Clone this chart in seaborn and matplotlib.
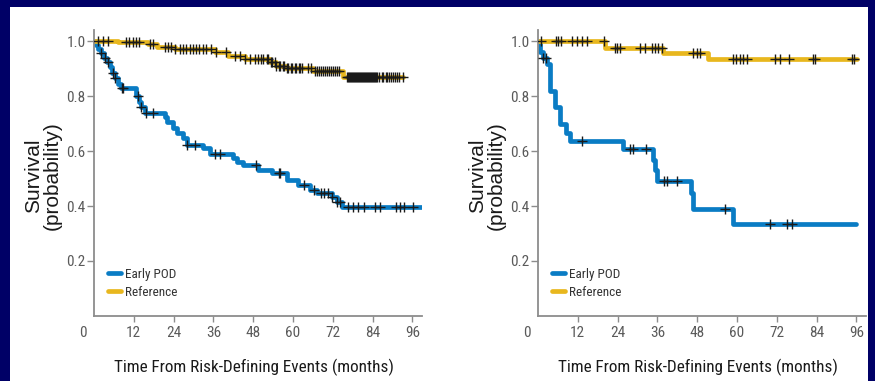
import numpy as np
import pandas as pd
import matplotlib
matplotlib.use("Agg")
import matplotlib.pyplot as plt
import seaborn as sns
from matplotlib import font_manager
from matplotlib.font_manager import FontProperties
from matplotlib.patches import Rectangle

# ---------------- data ----------------
groups = ["Early POD", "Reference"]
x_ticks = [12, 24, 36, 48, 60, 72, 84, 96]
y_ticks = [0.2, 0.4, 0.6, 0.8, 1.0]
y_tick_labels = ["0.2", "0.4", "0.6", "0.8", "1.0"]
x_label = "Time From Risk-Defining Events (months)"
y_label_1 = "Survival"
y_label_2 = "(probability)"

# Left panel - Early POD (step times / survival after step)
left_pod_t = [0.0, 0.5, 1.2, 2.0, 3.0, 4.0, 4.8, 5.5, 6.3, 7.2, 8.2, 12.8, 13.6, 14.3,
              15.3, 21.3, 21.9, 23.9, 24.9, 26.9, 27.9, 33.0, 35.0, 42.0, 43.0, 45.0,
              49.5, 53.6, 58.1, 61.6, 65.1, 67.1, 71.7, 73.2, 74.7, 98.9]
left_pod_s = [1.0, 0.985, 0.97, 0.955, 0.94, 0.922, 0.905, 0.885, 0.865, 0.845, 0.828,
              0.80, 0.78, 0.76, 0.738, 0.725, 0.707, 0.682, 0.664, 0.646, 0.622, 0.61,
              0.588, 0.573, 0.561, 0.549, 0.531, 0.519, 0.495, 0.476, 0.458, 0.446,
              0.434, 0.416, 0.397, 0.397]
left_pod_cens = [2.1, 3.3, 4.3, 5.8, 6.3, 8.3, 8.8, 13.3, 14.3, 15.8, 17.8, 27.9, 30.6,
                 36.5, 38.0, 48.8, 55.7, 56.1, 63.2, 66.2, 68.3, 69.5, 70.7, 71.8, 73.3,
                 74.3, 76.6, 78.0, 79.5, 81.5, 84.7, 86.2, 91.0, 92.4, 93.5, 96.1]

# Left panel - Reference
left_ref_t = [0.0, 7.2, 16.3, 19.0, 24.3, 36.4, 40.4, 45.4, 53.0, 55.0, 58.0, 66.1, 75.2, 93.3]
left_ref_s = [1.0, 0.995, 0.988, 0.98, 0.971, 0.959, 0.947, 0.935, 0.922, 0.91, 0.902,
              0.89, 0.87, 0.87]
left_ref_cens = [1.2, 2.7, 4.2, 9.7, 10.7, 11.7, 12.7, 13.7, 16.8, 17.8, 21.3, 22.3, 23.3,
                 24.3, 25.8, 26.9, 27.7, 28.8, 29.9, 30.7, 31.8, 32.9, 33.7, 35.3, 36.9,
                 39.9, 42.4, 43.9, 45.4, 46.9, 48.4, 49.5, 50.5, 51.0, 52.1, 52.6, 53.3,
                 53.8, 54.5, 55.0, 55.7, 56.2, 56.9, 57.3, 58.1, 58.6, 59.3, 59.8, 60.5,
                 61.0, 61.7, 62.1, 62.8, 64.5, 65.5, 66.6, 67.3, 67.8, 68.5, 69.0, 69.7,
                 70.2, 70.9, 71.4, 72.1, 72.6, 73.3, 73.8, 76.2, 76.5, 76.9, 77.1, 77.5,
                 77.8, 78.0, 78.4, 78.6, 79.0, 79.3, 79.5, 79.9, 80.1, 80.5, 80.7, 81.1,
                 81.3, 81.7, 82.0, 82.2, 82.6, 82.8, 83.2, 83.4, 83.8, 84.0, 84.4, 84.6,
                 85.0, 85.3, 85.8, 86.7, 87.2, 87.9, 88.4, 89.1, 89.6, 90.3, 90.8, 91.5,
                 92.0, 93.3]

# Right panel - Early POD
right_pod_t = [0.0, 0.5, 1.5, 2.7, 3.6, 5.1, 6.6, 8.4, 9.6, 25.7, 34.6, 35.3, 35.9,
               46.0, 46.6, 58.9, 95.9]
right_pod_s = [1.0, 0.96, 0.94, 0.918, 0.82, 0.76, 0.70, 0.665, 0.637, 0.606, 0.567,
               0.53, 0.49, 0.446, 0.39, 0.333, 0.333]
right_pod_cens = [1.6, 2.4, 13.2, 27.7, 28.7, 32.6, 38.0, 38.8, 41.8, 56.4, 70.0, 75.0, 76.5]

# Right panel - Reference
right_ref_t = [0.0, 20.2, 37.7, 51.3, 96.2]
right_ref_s = [1.0, 0.976, 0.957, 0.935, 0.935]
right_ref_cens = [0.8, 5.4, 6.1, 6.8, 10.2, 11.7, 13.2, 14.7, 19.9, 23.2, 23.9, 24.7,
                  30.8, 32.3, 34.3, 35.3, 36.3, 37.3, 46.8, 47.8, 48.8, 58.8, 59.8, 60.8,
                  61.8, 62.9, 71.4, 72.9, 75.8, 82.8, 83.5, 94.6, 95.3]

# ---------------- style ----------------
NAVY = "#000066"
BLUE = "#0A7CC4"
YELLOW = "#E8B71E"
palette = {"Early POD": BLUE, "Reference": YELLOW}

sns.set_theme(style="ticks")

# look for a condensed sans font; fall back to Liberation Sans (narrower than DejaVu)
cond_file = None
wanted = ["Liberation Sans Narrow", "Roboto Condensed", "Open Sans Condensed",
          "Noto Sans Condensed", "Arial Narrow", "DejaVu Sans Condensed"]
flist = font_manager.fontManager.ttflist
for name in wanted:
    for f in flist:
        if f.name == name and f.style == "normal" and f.weight in (400, "normal", "regular"):
            cond_file = f.fname
            break
    if cond_file:
        break
if cond_file is None:
    for f in flist:
        if f.name == "DejaVu Sans" and str(f.stretch) == "condensed" and f.style == "normal" \
                and f.weight in (400, "normal"):
            cond_file = f.fname
            break

avail = {f.name for f in flist}
regular = "Liberation Sans" if "Liberation Sans" in avail else "DejaVu Sans"
plt.rcParams["font.family"] = [regular, "DejaVu Sans"]

if cond_file:
    def cfont(size):
        return FontProperties(fname=cond_file, size=size)
    tick_size, leg_size, xl_size = 11, 9.5, 12.3
else:
    def cfont(size):
        return FontProperties(family=regular, size=size)
    tick_size, leg_size, xl_size = 10, 9, 11

W, H = 875, 381
fig = plt.figure(figsize=(W / 100, H / 100), dpi=100, facecolor=NAVY)
fig.add_artist(Rectangle((10 / W, 0), (868 - 10) / W, 1 - 7 / H,
                         transform=fig.transFigure, facecolor="white",
                         edgecolor="none", zorder=-10))


def px_axes(x0, x1, ytop, ybot):
    return fig.add_axes([x0 / W, 1 - ybot / H, (x1 - x0) / W, (ybot - ytop) / H])


ax_l = px_axes(94, 422, 30, 316)
ax_r = px_axes(538, 866, 30, 316)


def step_value(ts, ss, t):
    idx = np.searchsorted(np.asarray(ts), np.asarray(t), side="right") - 1
    return np.asarray(ss)[idx]


def draw_panel(ax, pod_t, pod_s, pod_c, ref_t, ref_s, ref_c):
    df = pd.concat([
        pd.DataFrame({"t": pod_t, "S": pod_s, "group": groups[0]}),
        pd.DataFrame({"t": ref_t, "S": ref_s, "group": groups[1]}),
    ], ignore_index=True)
    sns.lineplot(data=df, x="t", y="S", hue="group", hue_order=groups,
                 palette=palette, drawstyle="steps-post", estimator=None,
                 linewidth=3.4, ax=ax, legend=True)
    cens = pd.DataFrame({
        "t": list(pod_c) + list(ref_c),
        "S": list(step_value(pod_t, pod_s, pod_c)) + list(step_value(ref_t, ref_s, ref_c)),
    })
    sns.scatterplot(data=cens, x="t", y="S", marker="+", s=45, color="#1a1a1a",
                    linewidth=1.0, ax=ax, legend=False, zorder=4)

    ax.set_facecolor("white")
    ax.set_xlim(0, 98.9)
    ax.set_ylim(0, 1.04)
    ax.set_xticks(x_ticks)
    ax.set_xticklabels([str(v) for v in x_ticks])
    ax.set_yticks(y_ticks)
    ax.set_yticklabels(y_tick_labels)
    ax.set_xlabel("")
    ax.set_ylabel("")
    for sp in ["top", "right"]:
        ax.spines[sp].set_visible(False)
    for sp in ["left", "bottom"]:
        ax.spines[sp].set_color("#8c8c8c")
        ax.spines[sp].set_linewidth(1.3)
    ax.tick_params(axis="both", colors="#8c8c8c", labelcolor="#5a5a5a", width=1.0)
    ax.tick_params(axis="x", length=4.5, pad=2.5)
    ax.tick_params(axis="y", length=5, pad=1.0)
    for lab in ax.get_xticklabels() + ax.get_yticklabels():
        lab.set_fontproperties(cfont(tick_size))

    ax.annotate("0", xy=(0, 0), xycoords="data", xytext=(-11, -17),
                textcoords="offset pixels", ha="center", va="center",
                fontproperties=cfont(tick_size), color="#5a5a5a", annotation_clip=False)
    ax.annotate(x_label, xy=(0.5, 0), xycoords="axes fraction", xytext=(-4, -51),
                textcoords="offset pixels", ha="center", va="center",
                fontproperties=cfont(xl_size), color="#1a1a1a")
    ax.annotate(y_label_1, xy=(0, 0.4895), xycoords="axes fraction", xytext=(-60, 0),
                textcoords="offset pixels", ha="center", va="center", rotation=90,
                fontsize=15, color="#1a1a1a")
    ax.annotate(y_label_2, xy=(0, 0.4895), xycoords="axes fraction", xytext=(-41.5, 0),
                textcoords="offset pixels", ha="center", va="center", rotation=90,
                fontsize=15, color="#1a1a1a")

    handles, labels = ax.get_legend_handles_labels()
    leg = ax.legend(handles, labels, loc="lower left", bbox_to_anchor=(0.043, 0.06),
                    frameon=False, prop=cfont(leg_size), handlelength=1.0,
                    handletextpad=0.3, labelspacing=0.4, borderpad=0, borderaxespad=0)
    for txt in leg.get_texts():
        txt.set_color("#333333")
    for ln in leg.get_lines():
        ln.set_linewidth(3.4)


draw_panel(ax_l, left_pod_t, left_pod_s, left_pod_cens, left_ref_t, left_ref_s, left_ref_cens)
draw_panel(ax_r, right_pod_t, right_pod_s, right_pod_cens, right_ref_t, right_ref_s, right_ref_cens)

fig.savefig("out.png", dpi=100, facecolor=NAVY)
